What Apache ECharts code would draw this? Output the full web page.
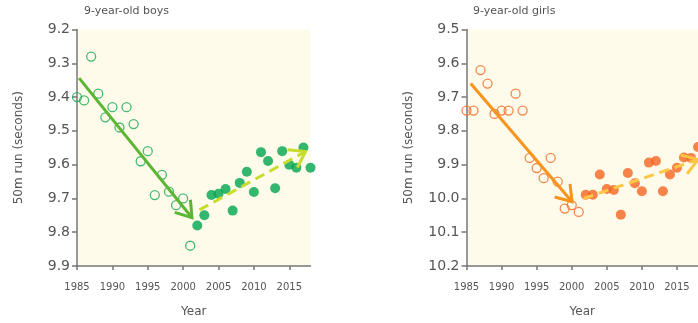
<!DOCTYPE html>
<html>
<head>
<meta charset="utf-8">
<script src="https://cdn.jsdelivr.net/npm/echarts@6/dist/echarts.min.js"></script>
<style>html,body{margin:0;padding:0;background:#fff;}#c{width:698px;height:323px;}</style>
</head>
<body>
<div id="c"></div>
<script>
// ---- data ----
const boysOpenYears = [1985,1986,1987,1988,1989,1990,1991,1992,1993,1994,1995,1996,1997,1998,1999,2000,2001];
const boysOpenValues = [9.40,9.41,9.28,9.39,9.46,9.43,9.49,9.43,9.48,9.59,9.56,9.69,9.63,9.68,9.72,9.70,9.84];
const boysFilledYears = [2002,2003,2004,2005,2006,2007,2008,2009,2010,2011,2012,2013,2014,2015,2016,2017,2018];
const boysFilledValues = [9.78,9.75,9.69,9.686,9.672,9.736,9.654,9.621,9.681,9.563,9.589,9.670,9.560,9.600,9.609,9.549,9.609];
const boysTrendDown = [1985.3, 9.344, 2001.25, 9.757];
const boysTrendUp = [2002.3, 9.734, 2017.3, 9.561];

const girlsOpenYears = [1985,1986,1987,1988,1989,1990,1991,1992,1993,1994,1995,1996,1997,1998,1999,2000,2001];
const girlsOpenValues = [9.74,9.74,9.62,9.66,9.75,9.74,9.74,9.69,9.74,9.88,9.91,9.94,9.88,9.95,10.03,10.02,10.04];
const girlsFilledYears = [2002,2003,2004,2005,2006,2007,2008,2009,2010,2011,2012,2013,2014,2015,2016,2017,2018];
const girlsFilledValues = [9.989,9.989,9.929,9.972,9.975,10.048,9.925,9.955,9.979,9.894,9.889,9.979,9.929,9.909,9.879,9.880,9.848];
const girlsTrendDown = [1985.6, 9.66, 2000.05, 10.01];
const girlsTrendUp = [2001.7, 10.0, 2018.0, 9.885];

const boysYTicks = [9.2, 9.9];
const girlsYTicks = [9.5, 10.2];
const xRange = [1985, 2018];
const titles = ['9-year-old boys', '9-year-old girls'];
const yName = '50m run (seconds)';
const xName = 'Year';

// ---- chart ----
const FONT = 'DejaVu Sans';
const zip = (a, b) => a.map((v, i) => [v, b[i]]);

function arrowSeries(idx, seg, color, dashed) {
  return {
    type: 'custom', xAxisIndex: idx, yAxisIndex: idx, z: 5, clip: false,
    encode: { x: [0, 2], y: [1, 3] },
    data: [seg],
    renderItem: function (params, api) {
      const p1 = api.coord([api.value(0), api.value(1)]);
      const p2 = api.coord([api.value(2), api.value(3)]);
      const ang = Math.atan2(p1[1] - p2[1], p1[0] - p2[0]);
      const L = 18, a = 34 * Math.PI / 180;
      const arm1 = [p2[0] + L * Math.cos(ang + a), p2[1] + L * Math.sin(ang + a)];
      const arm2 = [p2[0] + L * Math.cos(ang - a), p2[1] + L * Math.sin(ang - a)];
      return {
        type: 'group',
        children: [
          { type: 'line', shape: { x1: p1[0], y1: p1[1], x2: p2[0], y2: p2[1] },
            style: { stroke: color, lineWidth: 3, lineDash: dashed ? [10, 6] : null } },
          { type: 'polyline', shape: { points: [arm1, p2, arm2] },
            style: { stroke: color, lineWidth: 3, fill: null, lineJoin: 'miter' } }
        ]
      };
    }
  };
}

function yAxis(idx, ticks) {
  return {
    type: 'value', gridIndex: idx, inverse: true, min: ticks[0], max: ticks[1], interval: 0.1,
    name: yName, nameLocation: 'middle', nameGap: 52, nameRotate: 90,
    nameTextStyle: { color: '#555', fontSize: 12, fontFamily: FONT },
    axisLine: { show: true, lineStyle: { color: '#777', width: 1.5 } },
    axisTick: { show: true, length: 5, lineStyle: { color: '#777', width: 1.5 } },
    axisLabel: { color: '#555', fontSize: 14, fontFamily: FONT, margin: 7,
      formatter: v => v.toFixed(1) },
    splitLine: { show: false }
  };
}
function xAxis(idx) {
  return {
    type: 'value', gridIndex: idx, min: xRange[0], max: xRange[1], interval: 5,
    name: xName, nameLocation: 'middle', nameGap: 40,
    nameTextStyle: { color: '#555', fontSize: 12, fontFamily: FONT },
    axisLine: { show: true, onZero: false, lineStyle: { color: '#777', width: 1.5 } },
    axisTick: { show: true, length: 4, lineStyle: { color: '#777', width: 1.5 } },
    axisLabel: { color: '#555', fontSize: 10, fontFamily: FONT, margin: 16, showMaxLabel: false,
      formatter: v => String(v) },
    splitLine: { show: false }
  };
}

const chart = echarts.init(document.getElementById('c'), null, { renderer: 'canvas' });
chart.setOption({
  animation: false,
  backgroundColor: '#ffffff',
  title: [
    { text: titles[0], left: 84, top: 6, padding: 0, textStyle: { color: '#555', fontSize: 11, fontWeight: 'normal', fontFamily: FONT } },
    { text: titles[1], left: 473, top: 6, padding: 0, textStyle: { color: '#555', fontSize: 11, fontWeight: 'normal', fontFamily: FONT } }
  ],
  grid: [
    { left: 77, top: 29.5, width: 233.5, height: 245.5, show: true, backgroundColor: '#fffbea', borderWidth: 0 },
    { left: 466.5, top: 29.5, width: 232.5, height: 245.5, show: true, backgroundColor: '#fffbea', borderWidth: 0 }
  ],
  xAxis: [xAxis(0), xAxis(1)],
  yAxis: [yAxis(0, boysYTicks), yAxis(1, girlsYTicks)],
  series: [
    { type: 'scatter', xAxisIndex: 0, yAxisIndex: 0, z: 3, symbol: 'circle', symbolSize: 9,
      itemStyle: { color: 'rgba(0,0,0,0)', borderColor: '#19a855', borderWidth: 1.3 },
      data: zip(boysOpenYears, boysOpenValues) },
    { type: 'scatter', xAxisIndex: 0, yAxisIndex: 0, z: 3, symbol: 'circle', symbolSize: 10,
      itemStyle: { color: '#00a54f' },
      data: zip(boysFilledYears, boysFilledValues) },
    arrowSeries(0, boysTrendDown, '#5db534', false),
    arrowSeries(0, boysTrendUp, '#c8dc30', true),
    { type: 'scatter', xAxisIndex: 1, yAxisIndex: 1, z: 3, symbol: 'circle', symbolSize: 9,
      itemStyle: { color: 'rgba(0,0,0,0)', borderColor: '#f26a24', borderWidth: 1.3 },
      data: zip(girlsOpenYears, girlsOpenValues) },
    { type: 'scatter', xAxisIndex: 1, yAxisIndex: 1, z: 3, symbol: 'circle', symbolSize: 10,
      itemStyle: { color: '#f26522' },
      data: zip(girlsFilledYears, girlsFilledValues) },
    arrowSeries(1, girlsTrendDown, '#f7941e', false),
    arrowSeries(1, girlsTrendUp, '#fdc643', true)
  ]
});
</script>
</body>
</html>
